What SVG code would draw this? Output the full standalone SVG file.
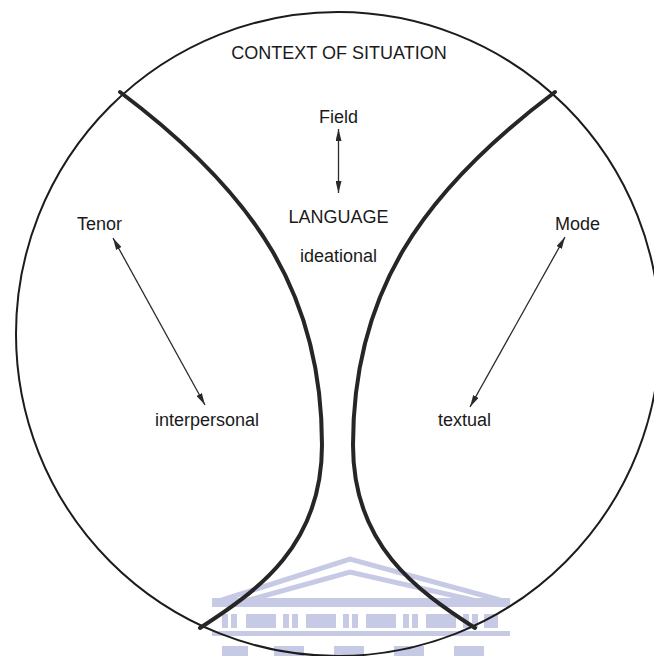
<svg xmlns="http://www.w3.org/2000/svg" width="654" height="656" viewBox="0 0 654 656">
  <defs>
    <style>
      .lbl { font-family: "Liberation Sans", Arial, sans-serif; font-size: 18px; fill: #1a1a1a; }
      .mid { text-anchor: middle; }
      .ring { fill: none; stroke: #1c1c1c; stroke-width: 2; }
      .divider { fill: none; stroke: #262626; stroke-width: 4; stroke-linecap: round; }
      .arrow { fill: none; stroke: #2a2a2a; stroke-width: 1.3; marker-start: url(#head); marker-end: url(#head); }
      .wm { fill: #c7cae5; }
      .wml { fill: none; stroke: #c7cae5; stroke-width: 5; }
    </style>
    <marker id="head" viewBox="0 0 12 6" refX="12" refY="3" markerWidth="12" markerHeight="6" markerUnits="userSpaceOnUse" orient="auto-start-reverse">
      <path d="M0,0 L12,3 L0,6 z" fill="#2a2a2a"/>
    </marker>
  </defs>
  <rect width="654" height="656" fill="#ffffff"/>

  <!-- faint watermark (building) -->
  <g id="watermark">
    <polyline class="wml" points="222,600 350,559 500,600"/>
    <polyline class="wml" points="238,603 350,572 486,603"/>
    <rect class="wm" x="212" y="598" width="298" height="9"/>
    <g>
      <rect class="wm" x="222" y="614" width="6" height="14"/>
      <rect class="wm" x="231" y="614" width="6" height="14"/>
      <rect class="wm" x="246" y="614" width="30" height="14"/>
      <rect class="wm" x="283" y="614" width="6" height="14"/>
      <rect class="wm" x="292" y="614" width="6" height="14"/>
      <rect class="wm" x="306" y="614" width="30" height="14"/>
      <rect class="wm" x="343" y="614" width="6" height="14"/>
      <rect class="wm" x="352" y="614" width="6" height="14"/>
      <rect class="wm" x="366" y="614" width="30" height="14"/>
      <rect class="wm" x="403" y="614" width="6" height="14"/>
      <rect class="wm" x="412" y="614" width="6" height="14"/>
      <rect class="wm" x="426" y="614" width="30" height="14"/>
      <rect class="wm" x="463" y="614" width="6" height="14"/>
      <rect class="wm" x="472" y="614" width="6" height="14"/>
      <rect class="wm" x="484" y="614" width="14" height="14"/>
    </g>
    <rect class="wm" x="212" y="631" width="298" height="5"/>
    <g>
      <rect class="wm" x="222" y="646" width="26" height="10"/>
      <rect class="wm" x="274" y="646" width="30" height="10"/>
      <rect class="wm" x="334" y="646" width="30" height="10"/>
      <rect class="wm" x="394" y="646" width="30" height="10"/>
      <rect class="wm" x="454" y="646" width="30" height="10"/>
    </g>
  </g>

  <g id="context-circle">
    <circle class="ring" cx="338" cy="334" r="322"/>
    <text class="lbl mid" x="339" y="59">CONTEXT OF SITUATION</text>
  </g>

  <g id="dividers">
    <path id="left-divider" class="divider" d="M120,92 C256,194 322,295 322,445 C322,545 259,590 200,628"/>
    <path id="right-divider" class="divider" d="M555,92 C419,194 353,295 353,445 C353,545 416,590 475,628"/>
  </g>

  <g id="field">
    <text class="lbl mid" x="338.5" y="123">Field</text>
  </g>
  <g id="language">
    <text class="lbl mid" x="338.5" y="223">LANGUAGE</text>
  </g>
  <g id="ideational">
    <text class="lbl mid" x="338.5" y="262">ideational</text>
  </g>
  <g id="tenor">
    <text class="lbl" x="77" y="230">Tenor</text>
  </g>
  <g id="interpersonal">
    <text class="lbl" x="155" y="426">interpersonal</text>
  </g>
  <g id="mode">
    <text class="lbl" x="555" y="230">Mode</text>
  </g>
  <g id="textual">
    <text class="lbl" x="438" y="426">textual</text>
  </g>

  <g id="connectors">
    <line class="arrow" x1="338.5" y1="129" x2="338.5" y2="193"/>
    <line class="arrow" x1="113" y1="238" x2="205" y2="405"/>
    <line class="arrow" x1="565" y1="237" x2="470" y2="407"/>
  </g>
</svg>
